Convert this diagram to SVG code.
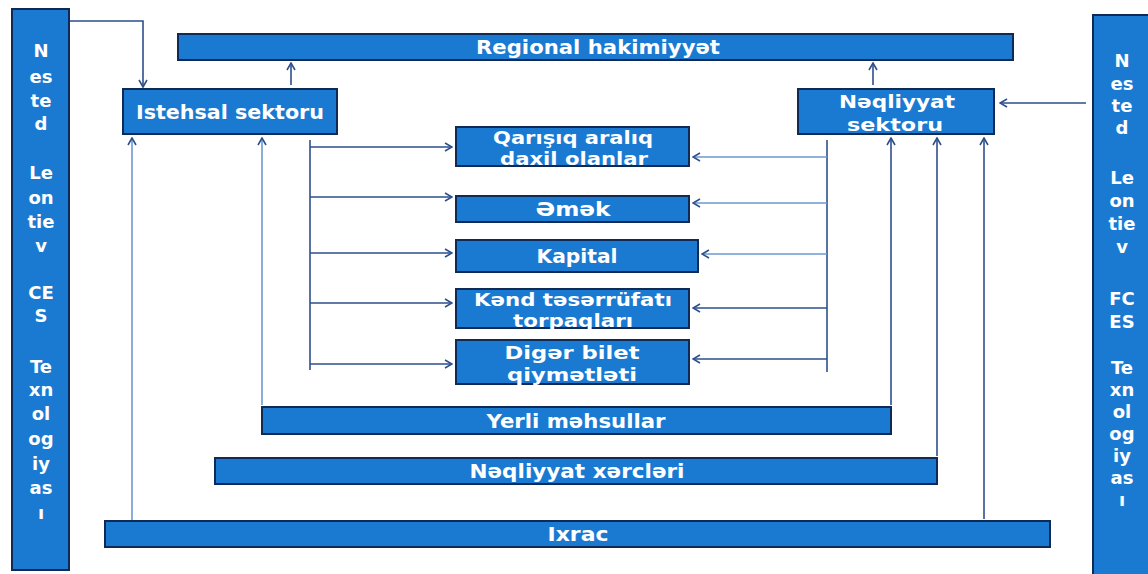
<svg xmlns="http://www.w3.org/2000/svg" width="1148" height="574" viewBox="0 0 1148 574">
<style>
.box{fill:#1a7ad2;stroke:#0e2a55;stroke-width:2}
.t{fill:#fff;font-family:"DejaVu Sans",sans-serif;font-weight:bold;font-size:19px;text-anchor:middle;dominant-baseline:central}
.t2{font-size:18px}
.ct{fill:#fff;font-family:"DejaVu Sans",sans-serif;font-weight:bold;font-size:18px;text-anchor:middle;dominant-baseline:central}
.c{fill:none;stroke:#2d4f8c;stroke-width:1.6;marker-end:url(#ah)}
.cl{fill:none;stroke:#2d4f8c;stroke-width:1.6}
.lb{stroke:#6a9ad0}
</style>
<defs>
<marker id="ah" viewBox="0 0 10 10" refX="9" refY="5" markerWidth="10" markerHeight="10" markerUnits="userSpaceOnUse" orient="auto">
<path d="M2,1 L9,5 L2,9" fill="none" stroke="#2d4f8c" stroke-width="1.6"/>
</marker>
</defs>
<rect width="1148" height="574" fill="#fff"/>

<g id="connectors">
<path class="c" d="M69,21 H143 V87"/>
<path class="c" d="M291,85 V63"/>
<path class="c" d="M873,85 V63"/>
<path class="c" d="M1086,103 H1000"/>
<path class="c lb" d="M132,521 V138"/>
<path class="c lb" d="M262,405 V138"/>
<path class="cl" d="M310,140 V370"/>
<path class="c" d="M310,147 H452"/>
<path class="c" d="M310,197 H452"/>
<path class="c" d="M310,253 H452"/>
<path class="c" d="M310,303 H452"/>
<path class="c" d="M310,364 H452"/>
<path class="cl" d="M827,140 V372"/>
<path class="c lb" d="M827,157 H693"/>
<path class="c lb" d="M827,203 H693"/>
<path class="c lb" d="M827,254 H702"/>
<path class="c" d="M827,308 H693"/>
<path class="c" d="M827,359 H693"/>
<path class="c" d="M891,405 V138"/>
<path class="c" d="M937,456 V138"/>
<path class="c" d="M984,519 V138"/>
</g>

<g id="left-col">
<rect class="box" x="12" y="9" width="57" height="561"/>
<text class="ct" x="41" y="50">N</text>
<text class="ct" x="41" y="76">es</text>
<text class="ct" x="41" y="100">te</text>
<text class="ct" x="41" y="123">d</text>
<text class="ct" x="41" y="172">Le</text>
<text class="ct" x="41" y="197">on</text>
<text class="ct" x="41" y="221">tie</text>
<text class="ct" x="41" y="245">v</text>
<text class="ct" x="41" y="292">CE</text>
<text class="ct" x="41" y="315">S</text>
<text class="ct" x="41" y="366">Te</text>
<text class="ct" x="41" y="389">xn</text>
<text class="ct" x="41" y="413">ol</text>
<text class="ct" x="41" y="438">og</text>
<text class="ct" x="41" y="463">iy</text>
<text class="ct" x="41" y="487">as</text>
<text class="ct" x="41" y="512">ı</text>
</g>

<g id="right-col">
<rect class="box" x="1093" y="15" width="60" height="565"/>
<text class="ct" x="1122" y="60">N</text>
<text class="ct" x="1122" y="83">es</text>
<text class="ct" x="1122" y="105">te</text>
<text class="ct" x="1122" y="127">d</text>
<text class="ct" x="1122" y="177">Le</text>
<text class="ct" x="1122" y="200">on</text>
<text class="ct" x="1122" y="223">tie</text>
<text class="ct" x="1122" y="246">v</text>
<text class="ct" x="1122" y="298">FC</text>
<text class="ct" x="1122" y="321">ES</text>
<text class="ct" x="1122" y="367">Te</text>
<text class="ct" x="1122" y="389">xn</text>
<text class="ct" x="1122" y="411">ol</text>
<text class="ct" x="1122" y="433">og</text>
<text class="ct" x="1122" y="455">iy</text>
<text class="ct" x="1122" y="477">as</text>
<text class="ct" x="1122" y="499">ı</text>
</g>

<g id="regional">
<rect class="box" x="178" y="34" width="835" height="26"/>
<text class="t" x="598" y="47" textLength="244" lengthAdjust="spacingAndGlyphs">Regional hakimiyyət</text>
</g>

<g id="istehsal">
<rect class="box" x="123" y="89" width="214" height="45"/>
<text class="t" x="230" y="112" textLength="188" lengthAdjust="spacingAndGlyphs">Istehsal sektoru</text>
</g>

<g id="neqliyyat">
<rect class="box" x="798" y="89" width="196" height="45"/>
<text class="t t2" x="897" y="101" textLength="116" lengthAdjust="spacingAndGlyphs">Nəqliyyat</text>
<text class="t t2" x="895" y="124" textLength="96" lengthAdjust="spacingAndGlyphs">sektoru</text>
</g>

<g id="qarisiq">
<rect class="box" x="456" y="127" width="233" height="39"/>
<text class="t t2" x="573" y="137" textLength="160" lengthAdjust="spacingAndGlyphs">Qarışıq aralıq</text>
<text class="t t2" x="574" y="158" textLength="148" lengthAdjust="spacingAndGlyphs">daxil olanlar</text>
</g>

<g id="emek">
<rect class="box" x="456" y="196" width="233" height="26"/>
<text class="t" x="573" y="209" textLength="75" lengthAdjust="spacingAndGlyphs">Əmək</text>
</g>

<g id="kapital">
<rect class="box" x="456" y="240" width="242" height="32"/>
<text class="t" x="577" y="256" textLength="81" lengthAdjust="spacingAndGlyphs">Kapital</text>
</g>

<g id="kend">
<rect class="box" x="456" y="289" width="233" height="39"/>
<text class="t t2" x="573" y="299" textLength="198" lengthAdjust="spacingAndGlyphs">Kənd təsərrüfatı</text>
<text class="t t2" x="573" y="320" textLength="120" lengthAdjust="spacingAndGlyphs">torpaqları</text>
</g>

<g id="diger">
<rect class="box" x="456" y="340" width="233" height="44"/>
<text class="t t2" x="572" y="352" textLength="135" lengthAdjust="spacingAndGlyphs">Digər  bilet</text>
<text class="t t2" x="572" y="374" textLength="130" lengthAdjust="spacingAndGlyphs">qiymətləti</text>
</g>

<g id="yerli">
<rect class="box" x="262" y="407" width="629" height="27"/>
<text class="t" x="576" y="421" textLength="179" lengthAdjust="spacingAndGlyphs">Yerli məhsullar</text>
</g>

<g id="neq-xerc">
<rect class="box" x="215" y="458" width="722" height="26"/>
<text class="t" x="577" y="471" textLength="215" lengthAdjust="spacingAndGlyphs">Nəqliyyat xərcləri</text>
</g>

<g id="ixrac">
<rect class="box" x="105" y="521" width="945" height="26"/>
<text class="t" x="578" y="534" textLength="61" lengthAdjust="spacingAndGlyphs">Ixrac</text>
</g>
</svg>
